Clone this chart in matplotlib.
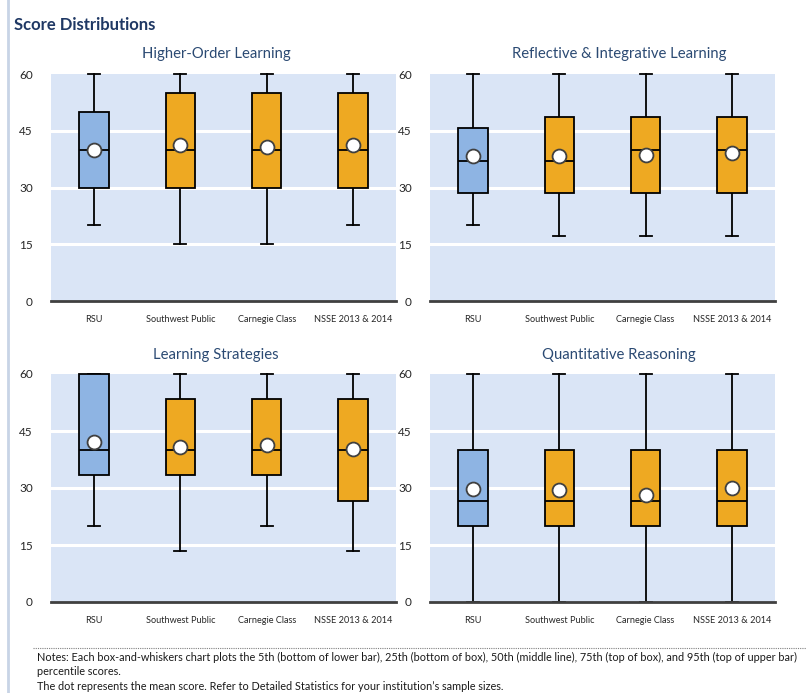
import matplotlib
matplotlib.use("Agg")
import matplotlib.pyplot as plt
from matplotlib.lines import Line2D

# ---------------- data ----------------
categories = ["RSU", "Southwest Public", "Carnegie Class", "NSSE 2013 & 2014"]
panel_titles = ["Higher-Order Learning", "Reflective & Integrative Learning",
                "Learning Strategies", "Quantitative Reasoning"]

hol_p5 = [20, 15, 15, 20]
hol_p25 = [30, 30, 30, 30]
hol_p50 = [40, 40, 40, 40]
hol_p75 = [50, 55, 55, 55]
hol_p95 = [60, 60, 60, 60]
hol_mean = [40.0, 41.3, 40.8, 41.3]

ril_p5 = [20.0, 17.1, 17.1, 17.1]
ril_p25 = [28.6, 28.6, 28.6, 28.6]
ril_p50 = [37.1, 37.1, 40.0, 40.0]
ril_p75 = [45.7, 48.6, 48.6, 48.6]
ril_p95 = [60, 60, 60, 60]
ril_mean = [38.2, 38.2, 38.7, 39.0]

ls_p5 = [20.0, 13.3, 20.0, 13.3]
ls_p25 = [33.3, 33.3, 33.3, 26.7]
ls_p50 = [40, 40, 40, 40]
ls_p75 = [60.0, 53.3, 53.3, 53.3]
ls_p95 = [60, 60, 60, 60]
ls_mean = [42.2, 40.9, 41.2, 40.2]

qr_p5 = [0, 0, 0, 0]
qr_p25 = [20, 20, 20, 20]
qr_p50 = [26.7, 26.7, 26.7, 26.7]
qr_p75 = [40, 40, 40, 40]
qr_p95 = [60, 60, 60, 60]
qr_mean = [29.8, 29.4, 28.1, 29.9]

yticks = [0, 15, 30, 45, 60]

panels = [
    (hol_p5, hol_p25, hol_p50, hol_p75, hol_p95, hol_mean),
    (ril_p5, ril_p25, ril_p50, ril_p75, ril_p95, ril_mean),
    (ls_p5, ls_p25, ls_p50, ls_p75, ls_p95, ls_mean),
    (qr_p5, qr_p25, qr_p50, qr_p75, qr_p95, qr_mean),
]

# ---------------- styling ----------------
W, H = 806, 693
fig = plt.figure(figsize=(W / 100, H / 100), dpi=100)
fig.patch.set_facecolor("white")

FONT = "Lato"
TITLE_COLOR = "#2B4A73"
BG = "#DAE5F6"
RSU_COLOR = "#8EB4E3"
OTHER_COLOR = "#EEA922"

# axes rectangles in pixels (left, top, right, bottom)
rects = [(51, 74, 396, 301), (430, 74, 775, 301),
         (51, 374, 396, 602), (430, 374, 775, 602)]
title_pos = [(216, 54), (619, 54), (216, 355), (619, 355)]


def px_rect(l, t, r, b):
    return [l / W, 1 - b / H, (r - l) / W, (b - t) / H]


for i, (rect, data) in enumerate(zip(rects, panels)):
    ax = fig.add_axes(px_rect(*rect))
    ax.set_facecolor(BG)
    p5, p25, p50, p75, p95, mean = data
    stats = []
    for k in range(len(categories)):
        stats.append(dict(whislo=p5[k], q1=p25[k], med=p50[k], q3=p75[k],
                          whishi=p95[k], mean=mean[k], label=categories[k]))
    res = ax.bxp(stats, positions=range(len(categories)), widths=0.34,
                 patch_artist=True, showmeans=True, showfliers=False,
                 boxprops=dict(linewidth=1.3, edgecolor="black"),
                 medianprops=dict(color="black", linewidth=1.3),
                 whiskerprops=dict(color="black", linewidth=1.3),
                 capprops=dict(color="black", linewidth=1.3),
                 capwidths=0.14,
                 meanprops=dict(marker="o", markerfacecolor="white",
                                markeredgecolor="#404040", markersize=10,
                                markeredgewidth=1.3))
    for k, box in enumerate(res["boxes"]):
        box.set_facecolor(RSU_COLOR if k == 0 else OTHER_COLOR)
        box.set_zorder(3)
    for art in res["whiskers"] + res["caps"]:
        art.set_clip_on(False)
        art.set_zorder(2)
    for art in res["medians"]:
        art.set_zorder(4)
    for art in res["means"]:
        art.set_zorder(5)
        art.set_clip_on(False)
    for art in res["boxes"]:
        art.set_clip_on(False)

    ax.set_xlim(-0.5, len(categories) - 0.5)
    ax.set_ylim(0, 60)
    ax.set_yticks(yticks)
    ax.set_yticklabels([str(v) for v in yticks], fontsize=8.5, family=FONT,
                       color="#262626")
    ax.set_xticks(range(len(categories)))
    ax.set_xticklabels(categories, fontsize=6.6, family=FONT, color="#262626")
    ax.tick_params(axis="both", length=0)
    ax.tick_params(axis="y", pad=13)
    ax.tick_params(axis="x", pad=10)
    for y in yticks[1:-1]:
        ax.axhline(y, color="white", linewidth=2.2, zorder=1)
    for s in ["top", "right", "left"]:
        ax.spines[s].set_visible(False)
    ax.spines["bottom"].set_color("#404040")
    ax.spines["bottom"].set_linewidth(2)
    ax.spines["bottom"].set_zorder(6)
    tx, ty = title_pos[i]
    fig.text(tx / W, 1 - ty / H, panel_titles[i], ha="center",
             va="center", fontsize=10.7, family=FONT, color=TITLE_COLOR)

# main title
fig.text(14 / W, 1 - 25 / H, "Score Distributions", ha="left", va="center",
         fontsize=12, fontweight="bold", family=FONT, color="#1F3864")

# left page border line
fig.add_artist(Line2D([8 / W, 8 / W], [0, 1], color="#C8D4E6", linewidth=2))

# notes
fig.add_artist(Line2D([33 / W, 806 / W], [1 - 648 / H, 1 - 648 / H],
                      color="#808080", linewidth=0.8, linestyle=(0, (1, 1))))
notes = [
    "Notes: Each box-and-whiskers chart plots the 5th (bottom of lower bar), 25th (bottom of box), 50th (middle line), 75th (top of box), and 95th (top of upper bar)",
    "percentile scores.",
    "The dot represents the mean score. Refer to Detailed Statistics for your institution\u2019s sample sizes.",
]
for j, line in enumerate(notes):
    fig.text(37 / W, 1 - (657 + 14.5 * j) / H, line, ha="left", va="center",
             fontsize=7.85, family=FONT, color="#1a1a1a")

fig.savefig("out.png", dpi=100, facecolor="white")
